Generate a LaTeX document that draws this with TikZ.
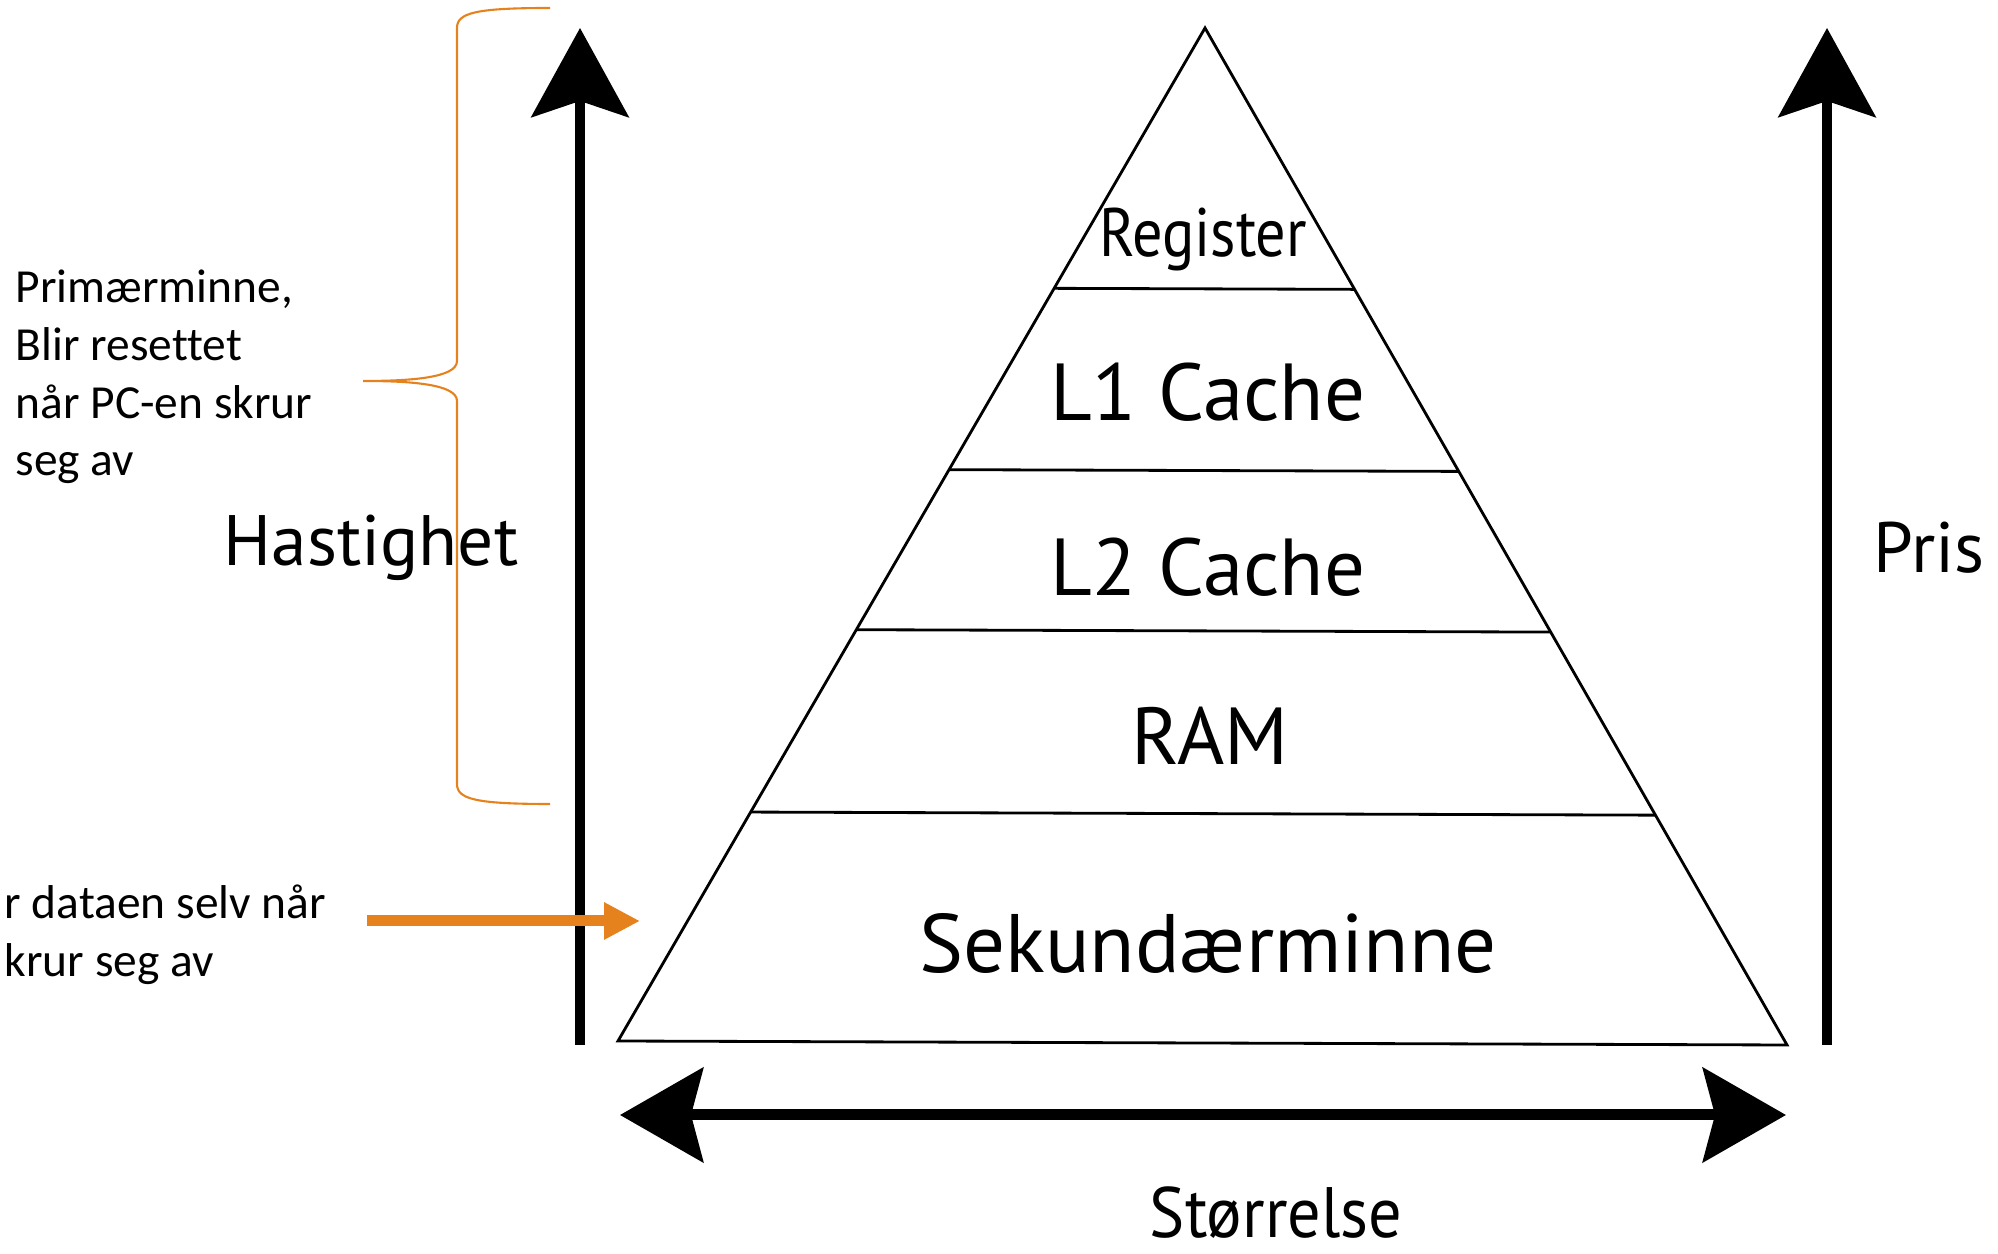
\documentclass[tikz,border=0pt]{standalone}
\usepackage{fontspec}
\setmainfont{PT Sans}
\newfontfamily\notefont[Ligatures=NoCommon]{Carlito}
\usetikzlibrary{arrows.meta,calc}
\definecolor{MHOrange}{HTML}{E6821E}

\begin{document}
\begin{tikzpicture}[x=1cm,y=1cm,
  axis/.style={line width=1mm,-{Stealth[length=8.9mm,width=9.7mm,inset=1.6mm]}},
  level/.style={font=\fontsize{23}{27}\selectfont},
  axislabel/.style={font=\fontsize{20.3}{24}\selectfont},
  note/.style={font=\notefont\fontsize{13.5}{16.4}\selectfont,align=left,anchor=west,inner sep=0pt}]
\path[use as bounding box] (0,0) rectangle (19.98,12.53);
\coordinate (apex) at (12.05,12.25);
\coordinate (bl) at (6.18,2.12);
\coordinate (br) at (17.87,2.08);
\draw[line width=.8pt,line join=miter] (apex) -- (bl) -- (br) -- cycle;
\foreach \t in {0.257,0.436,0.594,0.774}
  \draw[line width=.8pt] ($(apex)!\t!(bl)$) -- ($(apex)!\t!(br)$);
\node[level,xscale=.88,font=\fontsize{19.5}{22}\selectfont] (reg) at (12.03,10.13) {Register};
\node[level] (l1) at (12.08,8.61) {L1 Cache};
\node[level] (l2) at (12.08,6.86) {L2 Cache};
\node[level] (ram) at (12.10,5.17) {RAM};
\node[level,font=\fontsize{23.6}{27}\selectfont] (sek) at (12.08,3.10) {Sekundærminne};
\coordinate (speedlow) at (5.80,2.08);
\coordinate (speedhigh) at (5.80,12.25);
\coordinate (pricelow) at (18.27,2.08);
\coordinate (pricehigh) at (18.27,12.25);
\coordinate (sizeleft) at (6.20,1.38);
\coordinate (sizeright) at (17.86,1.38);
\draw[axis] (speedlow) -- (speedhigh);
\draw[axis] (pricelow) -- (pricehigh);
\draw[line width=1.1mm,{Stealth[length=8.3mm,width=9.4mm,inset=1.2mm]}-{Stealth[length=8.3mm,width=9.4mm,inset=1.2mm]}] (sizeleft) -- (sizeright);
\node[axislabel] (speed) at (3.71,7.05) {Hastighet};
\node[axislabel] (price) at (19.29,7.05) {Pris};
\node[axislabel,xscale=.93,inner sep=0pt] (size) at (12.76,0.40) {Størrelse};
\draw[MHOrange,line width=.6pt] (5.50,12.45) .. controls (4.75,12.45) and (4.57,12.40) .. (4.57,12.25)
  -- (4.57,8.92) .. controls (4.57,8.75) and (4.10,8.72) .. (3.63,8.72)
  .. controls (4.10,8.72) and (4.57,8.69) .. (4.57,8.52)
  -- (4.57,4.69) .. controls (4.57,4.54) and (4.75,4.49) .. (5.50,4.49);
\node[note] (prim) at (0.15,8.76) {Primærminne,\\Blir resettet\\når PC-en skrur\\seg av};
\node[note] (sec) at (0.04,3.18) {r dataen selv når\\krur seg av};
\coordinate (secfrom) at (3.67,3.32);
\coordinate (secto) at (6.40,3.32);
\draw[MHOrange,line width=1.1mm,-{Triangle[length=3.6mm,width=3.5mm]}] (secfrom) -- (secto);
\end{tikzpicture}
\end{document}
